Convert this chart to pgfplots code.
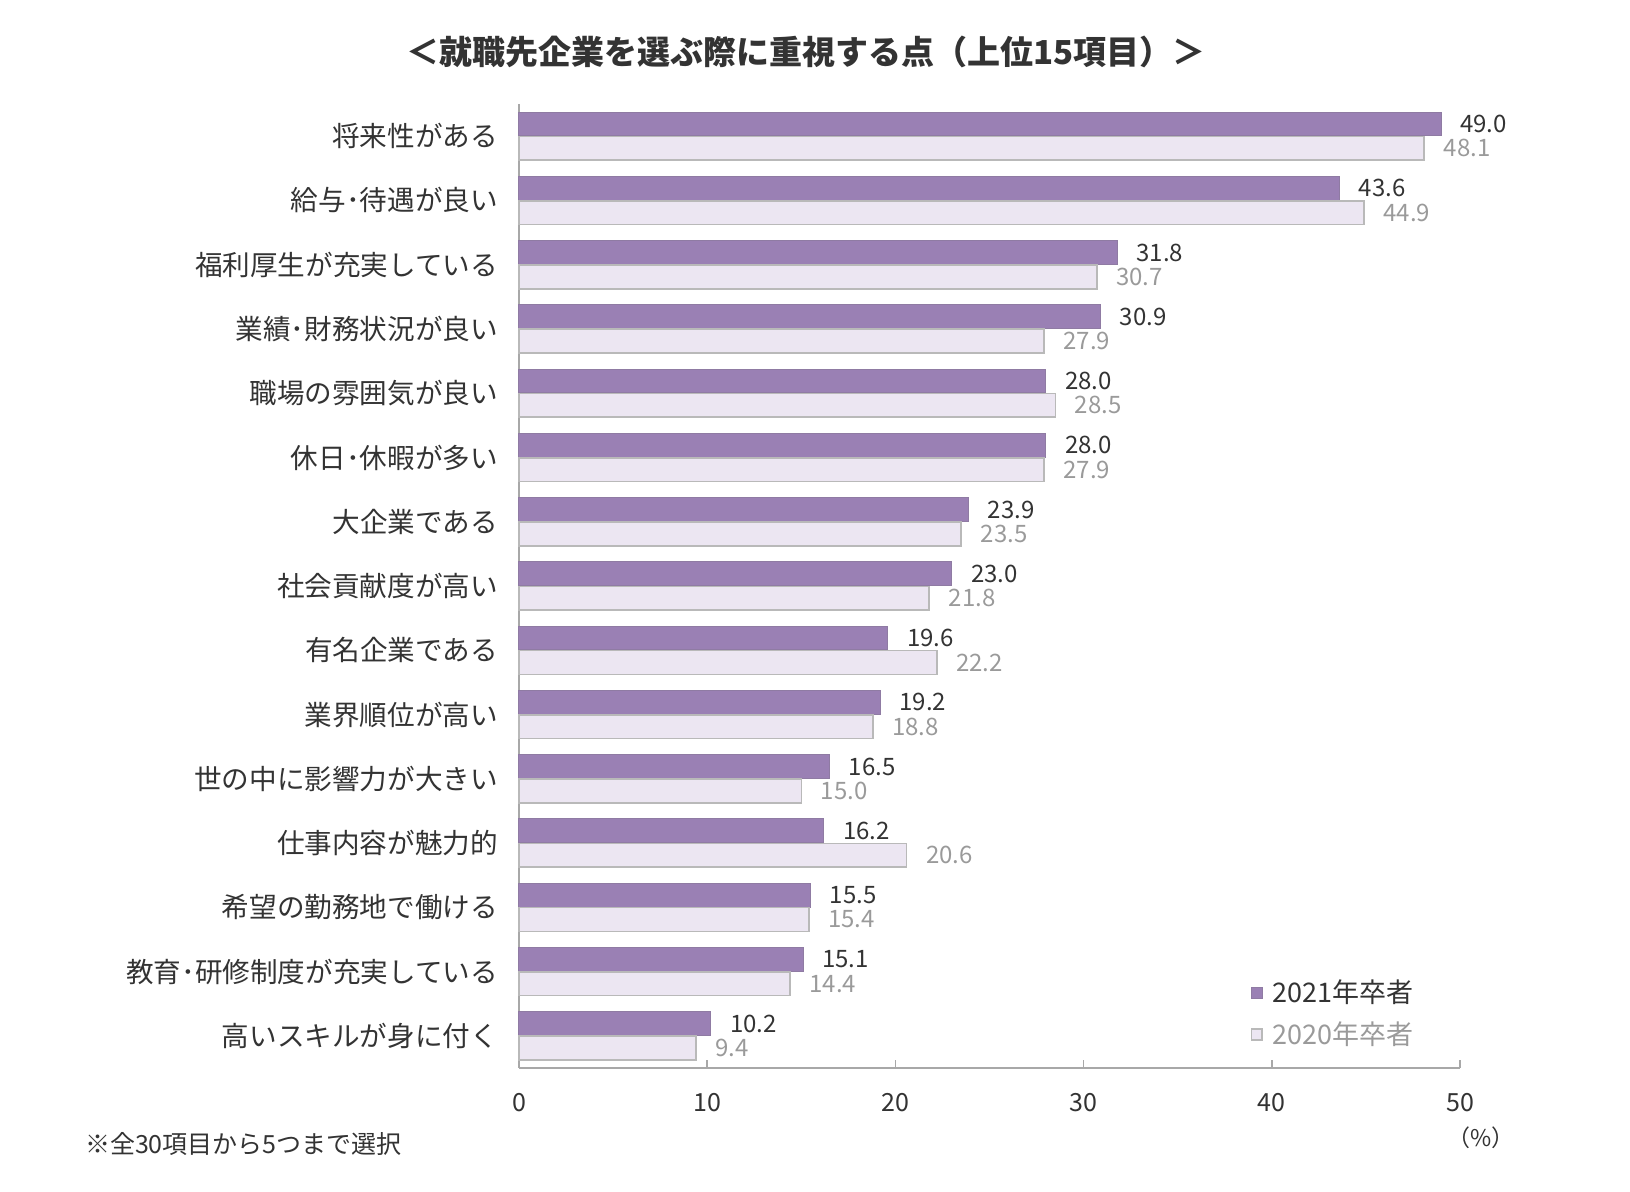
\documentclass[border=0pt]{standalone}
\usepackage{pgfplots}
\pgfplotsset{compat=1.18}
\usepackage{pgfplotstable}
\usepackage{fontspec}
\setmainfont{Noto Sans CJK JP}
\definecolor{darkbar}{HTML}{9A80B4}
\definecolor{lightbar}{HTML}{ECE6F2}
\definecolor{axisgray}{HTML}{A8A8A8}
\definecolor{txt}{HTML}{333333}
\definecolor{txtlight}{HTML}{9A9A9A}

\pgfplotstableread{
idx v21 v20
0 49.0 48.1
1 43.6 44.9
2 31.8 30.7
3 30.9 27.9
4 28.0 28.5
5 28.0 27.9
6 23.9 23.5
7 23.0 21.8
8 19.6 22.2
9 19.2 18.8
10 16.5 15.0
11 16.2 20.6
12 15.5 15.4
13 15.1 14.4
14 10.2 9.4
}\datatable

\begin{document}
\begin{tikzpicture}
\path[use as bounding box] (0,0) rectangle (815pt,596pt);
\node[font=\bfseries\fontsize{16.5}{18}\selectfont, text=txt] at (403pt,570pt) {＜就職先企業を選ぶ際に重視する点（上位15項目）＞};
\begin{axis}[
  at={(259.5pt,62pt)}, anchor=south west,
  scale only axis, width=470.5pt, height=482pt,
  xbar, y dir=reverse,
  xmin=0, xmax=50, ymin=-0.5, ymax=14.5,
  axis lines=left,
  axis line style={-, draw=axisgray, line width=0.8pt},
  xtick={0,10,20,30,40,50},
  xtick style={draw=axisgray, line width=0.8pt},
  tick align=inside,
  major tick length=4pt,
  xticklabel style={font=\fontsize{12.5}{14}\selectfont, text=txt, yshift=-9pt},
  ytick={0,...,14},
  yticklabels={将来性がある, 給与･待遇が良い, 福利厚生が充実している, 業績･財務状況が良い, 職場の雰囲気が良い, 休日･休暇が多い, 大企業である, 社会貢献度が高い, 有名企業である, 業界順位が高い, 世の中に影響力が大きい, 仕事内容が魅力的, 希望の勤務地で働ける, 教育･研修制度が充実している, 高いスキルが身に付く},
  ytick style={draw=none},
  yticklabel style={font=\fontsize{13.8}{15}\selectfont, text=txt, xshift=-7pt},
  minor ytick={-0.5,0.5,...,14.5},
  minor tick style={draw=axisgray, line width=0.8pt},
  minor tick length=4pt,
  /pgf/number format/assume math mode=true,
  bar width=0.37,
  nodes near coords,
  nodes near coords align={horizontal},
  every node near coord/.append style={font=\fontsize{12}{13}\selectfont, xshift=6pt,
     /pgf/number format/fixed, /pgf/number format/fixed zerofill, /pgf/number format/precision=1},
  legend style={at={(0.777,0.096)}, anchor=north west, draw=none, fill=none,
     font=\fontsize{13.5}{15}\selectfont, row sep=4pt, inner sep=0pt,
     /tikz/every odd column/.append style={column sep=3pt}},
  legend cell align=left,
  legend image code/.code={\draw[#1] (0pt,-2.7pt) rectangle (5.4pt,2.7pt);},
  clip=false,
]
\addplot[bar shift=-0.19, fill=darkbar, draw=darkbar!85!black!90, line width=0.5pt,
  every node near coord/.append style={text=txt}] table[x=v21, y=idx] {\datatable};
\addlegendentry[text=txt]{2021年卒者}
\addplot[bar shift=0.19, fill=lightbar, draw=axisgray!80, line width=0.8pt,
  every node near coord/.append style={text=txtlight}] table[x=v20, y=idx] {\datatable};
\addlegendentry[text=txtlight]{2020年卒者}
\end{axis}
\node[anchor=west, font=\fontsize{12.5}{14}\selectfont, text=txt] at (39pt,24pt) {※全30項目から5つまで選択};
\node[font=\fontsize{11.5}{13}\selectfont, text=txt] at (740.5pt,27pt) {（\%）};
\end{tikzpicture}
\end{document}
